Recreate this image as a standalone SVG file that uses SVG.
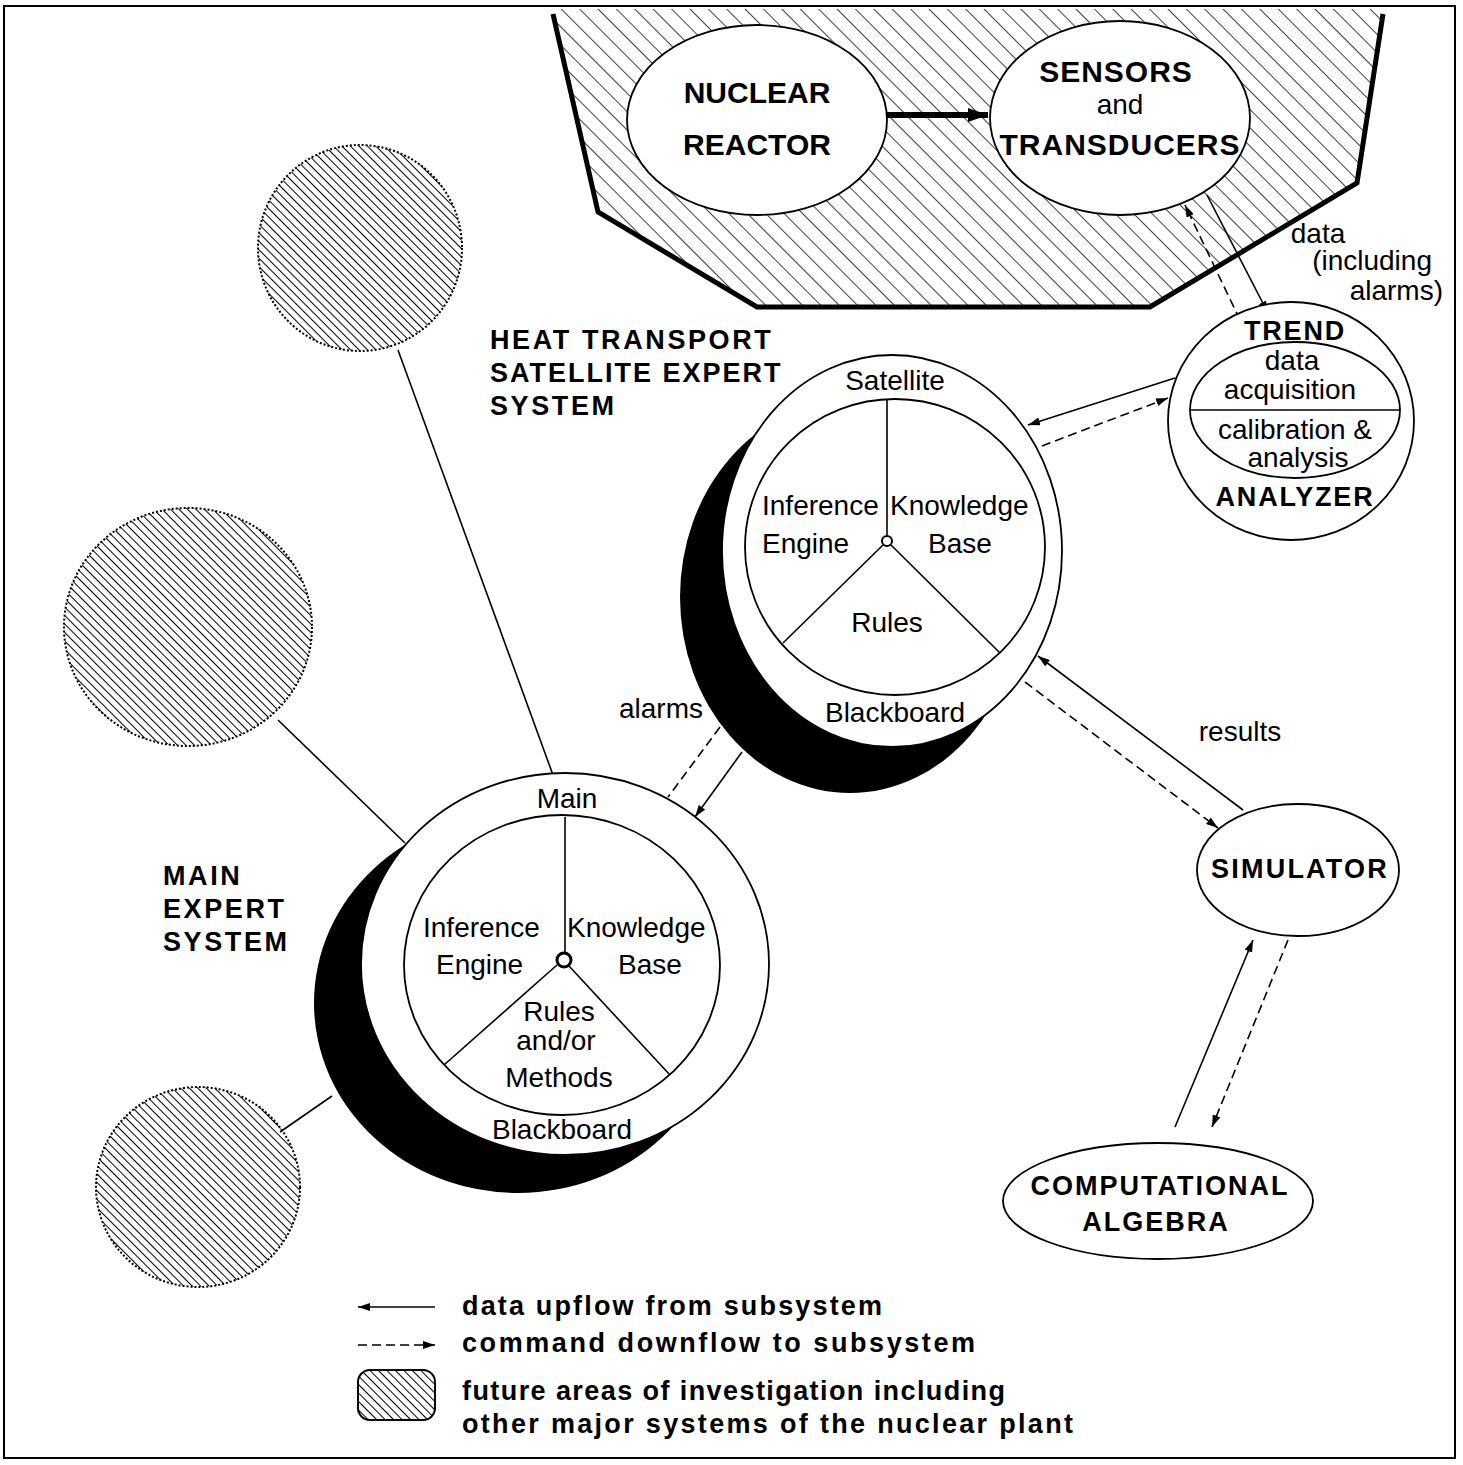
<svg xmlns="http://www.w3.org/2000/svg" width="1463" height="1465" viewBox="0 0 1463 1465">
<style>
text{font-family:"Liberation Sans",Arial,sans-serif;fill:#000}
.r{font-size:28px}
.b{font-size:27px;font-weight:bold;letter-spacing:1.8px}
.hd{font-size:27px;font-weight:bold;letter-spacing:2.6px}
.bh{font-size:30px;font-weight:bold}
.lg{font-size:27px;font-weight:bold}
.m{text-anchor:middle}
.ln{stroke:#000;stroke-width:1.6;fill:none}
.ds{stroke:#000;stroke-width:1.6;fill:none;stroke-dasharray:9 5}
.wh{fill:#fff;stroke:#000;stroke-width:1.8}
.fut{fill:url(#hatchS);stroke:#000;stroke-width:2;stroke-dasharray:2 2}
</style>
<defs>
<pattern id="hatchB" width="13" height="13" patternUnits="userSpaceOnUse" patternTransform="rotate(-45)">
<line x1="0" y1="0" x2="0" y2="13" stroke="#000" stroke-width="1.5"/>
</pattern>
<pattern id="hatchS" width="6" height="6" patternUnits="userSpaceOnUse" patternTransform="rotate(-45)">
<line x1="0" y1="0" x2="0" y2="6" stroke="#000" stroke-width="2"/>
</pattern>
<marker id="ah" viewBox="0 0 12 8" refX="12" refY="4" markerWidth="12" markerHeight="8" markerUnits="userSpaceOnUse" orient="auto">
<path d="M0,0 L12,4 L0,8 z" fill="#000"/>
</marker>
<marker id="ahB" viewBox="0 0 20 14" refX="20" refY="7" markerWidth="20" markerHeight="14" markerUnits="userSpaceOnUse" orient="auto">
<path d="M0,0 L20,7 L0,14 z" fill="#000"/>
</marker>
</defs>
<rect width="1463" height="1465" fill="#fff"/>
<rect x="4" y="6" width="1451" height="1452" fill="none" stroke="#000" stroke-width="2"/>

<!-- plant containment -->
<g id="plant">
<polygon points="553,9 598,212 757,307 1150,307 1357,183 1383,9" fill="url(#hatchB)"/>
<polyline points="553,14 598,212 757,307 1150,307 1357,183 1383,14" fill="none" stroke="#000" stroke-width="5"/>
</g>

<!-- connectors -->
<g id="connectors">
<line x1="887" y1="115" x2="988" y2="115" stroke="#000" stroke-width="6" marker-end="url(#ahB)"/>
<line x1="1207" y1="195" x2="1268" y2="313" class="ln" marker-end="url(#ah)"/>
<line x1="1240" y1="320" x2="1185" y2="205" class="ds" marker-end="url(#ah)"/>
<line x1="1175" y1="378" x2="1028" y2="425" class="ln" marker-end="url(#ah)"/>
<line x1="1042" y1="446" x2="1168" y2="398" class="ds" marker-end="url(#ah)"/>
<line x1="742" y1="752" x2="695" y2="817" class="ln" marker-end="url(#ah)"/>
<line x1="720" y1="727" x2="668" y2="797" class="ds"/>
<line x1="1243" y1="810" x2="1038" y2="656" class="ln" marker-end="url(#ah)"/>
<line x1="1025" y1="682" x2="1218" y2="828" class="ds" marker-end="url(#ah)"/>
<line x1="1175" y1="1127" x2="1253" y2="940" class="ln" marker-end="url(#ah)"/>
<line x1="1288" y1="940" x2="1212" y2="1127" class="ds" marker-end="url(#ah)"/>
<line x1="398" y1="350" x2="553" y2="775" class="ln"/>
<line x1="278" y1="720" x2="405" y2="843" class="ln"/>
<line x1="280" y1="1132" x2="332" y2="1096" class="ln"/>
</g>

<g id="nuclear-reactor">
<ellipse cx="757" cy="120" rx="130" ry="95" class="wh"/>
<text x="757" y="103" class="bh m">NUCLEAR</text>
<text x="757" y="155" class="bh m">REACTOR</text>
</g>

<g id="sensors">
<ellipse cx="1120" cy="118" rx="130" ry="97" class="wh"/>
<text x="1116" y="82" class="bh m" style="letter-spacing:1px">SENSORS</text>
<text x="1120" y="114" class="r m">and</text>
<text x="1120" y="155" class="bh m" style="letter-spacing:1px">TRANSDUCERS</text>
</g>

<g id="data-label">
<text x="1318" y="243" class="r m">data</text>
<text x="1432" y="270" class="r" text-anchor="end">(including</text>
<text x="1443" y="300" class="r" text-anchor="end">alarms)</text>
</g>

<g id="trend-analyzer">
<ellipse cx="1291" cy="421" rx="123" ry="119" class="wh"/>
<ellipse cx="1295" cy="410" rx="105" ry="68" class="wh"/>
<line x1="1190" y1="410" x2="1400" y2="410" class="ln"/>
<text x="1295" y="340" class="b m">TREND</text>
<text x="1292" y="370" class="r m">data</text>
<text x="1290" y="399" class="r m">acquisition</text>
<text x="1295" y="439" class="r m">calibration &amp;</text>
<text x="1298" y="467" class="r m">analysis</text>
<text x="1295" y="506" class="b m">ANALYZER</text>
</g>

<g id="satellite-expert-system">
<ellipse cx="850" cy="597" rx="170" ry="196" fill="#000"/>
<ellipse cx="892" cy="551" rx="170" ry="196" class="wh"/>
<ellipse cx="895" cy="547" rx="150" ry="148" class="wh"/>
<line x1="887" y1="400" x2="887" y2="535" class="ln"/>
<line x1="883" y1="545" x2="783" y2="643" class="ln"/>
<line x1="891" y1="545" x2="1000" y2="653" class="ln"/>
<circle cx="887" cy="541" r="5" fill="#fff" stroke="#000" stroke-width="2"/>
<text x="895" y="390" class="r m">Satellite</text>
<text x="762" y="515" class="r">Inference</text>
<text x="762" y="553" class="r">Engine</text>
<text x="890" y="515" class="r">Knowledge</text>
<text x="928" y="553" class="r">Base</text>
<text x="887" y="632" class="r m">Rules</text>
<text x="895" y="722" class="r m">Blackboard</text>
</g>

<g id="heat-transport-label">
<text x="490" y="349" class="hd">HEAT TRANSPORT</text>
<text x="490" y="382" class="hd" style="letter-spacing:2px">SATELLITE EXPERT</text>
<text x="490" y="415" class="hd">SYSTEM</text>
</g>

<g id="main-expert-system">
<ellipse cx="518" cy="1003" rx="204" ry="190" fill="#000"/>
<ellipse cx="565" cy="964" rx="204" ry="191" class="wh"/>
<ellipse cx="562" cy="965" rx="158" ry="150" class="wh"/>
<line x1="565" y1="817" x2="565" y2="952" class="ln"/>
<line x1="557" y1="965" x2="444" y2="1065" class="ln"/>
<line x1="569" y1="966" x2="670" y2="1075" class="ln"/>
<circle cx="564" cy="960" r="7" fill="#fff" stroke="#000" stroke-width="3"/>
<text x="567" y="808" class="r m">Main</text>
<text x="423" y="937" class="r">Inference</text>
<text x="436" y="974" class="r">Engine</text>
<text x="567" y="937" class="r">Knowledge</text>
<text x="618" y="974" class="r">Base</text>
<text x="559" y="1021" class="r m">Rules</text>
<text x="556" y="1050" class="r m">and/or</text>
<text x="559" y="1087" class="r m">Methods</text>
<text x="562" y="1139" class="r m">Blackboard</text>
</g>

<g id="main-label">
<text x="163" y="885" class="hd">MAIN</text>
<text x="163" y="918" class="hd">EXPERT</text>
<text x="163" y="951" class="hd">SYSTEM</text>
</g>

<g id="future-1"><ellipse cx="360" cy="248" rx="102" ry="103" class="fut"/></g>
<g id="future-2"><ellipse cx="188" cy="627" rx="124" ry="119" class="fut"/></g>
<g id="future-3"><ellipse cx="198" cy="1187" rx="102" ry="100" class="fut"/></g>

<g id="labels">
<text x="661" y="718" class="r m">alarms</text>
<text x="1240" y="741" class="r m">results</text>
</g>

<g id="simulator">
<ellipse cx="1298" cy="870" rx="101" ry="66" class="wh"/>
<text x="1300" y="878" class="b m" style="letter-spacing:2.2px">SIMULATOR</text>
</g>

<g id="computational-algebra">
<ellipse cx="1158" cy="1201" rx="155" ry="58" class="wh"/>
<text x="1160" y="1195" class="b m" style="letter-spacing:2px">COMPUTATIONAL</text>
<text x="1156" y="1231" class="b m" style="letter-spacing:2px">ALGEBRA</text>
</g>

<g id="legend">
<line x1="435" y1="1307" x2="358" y2="1307" class="ln" marker-end="url(#ah)"/>
<line x1="358" y1="1345" x2="435" y2="1345" class="ds" stroke-dasharray="5 3" marker-end="url(#ah)"/>
<rect x="358" y="1370" width="77" height="50" rx="12" fill="url(#hatchS)" stroke="#000" stroke-width="2"/>
<text x="462" y="1315" class="lg" textLength="420" lengthAdjust="spacing">data upflow from subsystem</text>
<text x="462" y="1352" class="lg" textLength="513" lengthAdjust="spacing">command downflow to subsystem</text>
<text x="462" y="1400" class="lg" textLength="543" lengthAdjust="spacing">future areas of investigation including</text>
<text x="462" y="1433" class="lg" textLength="611" lengthAdjust="spacing">other major systems of the nuclear plant</text>
</g>
</svg>
